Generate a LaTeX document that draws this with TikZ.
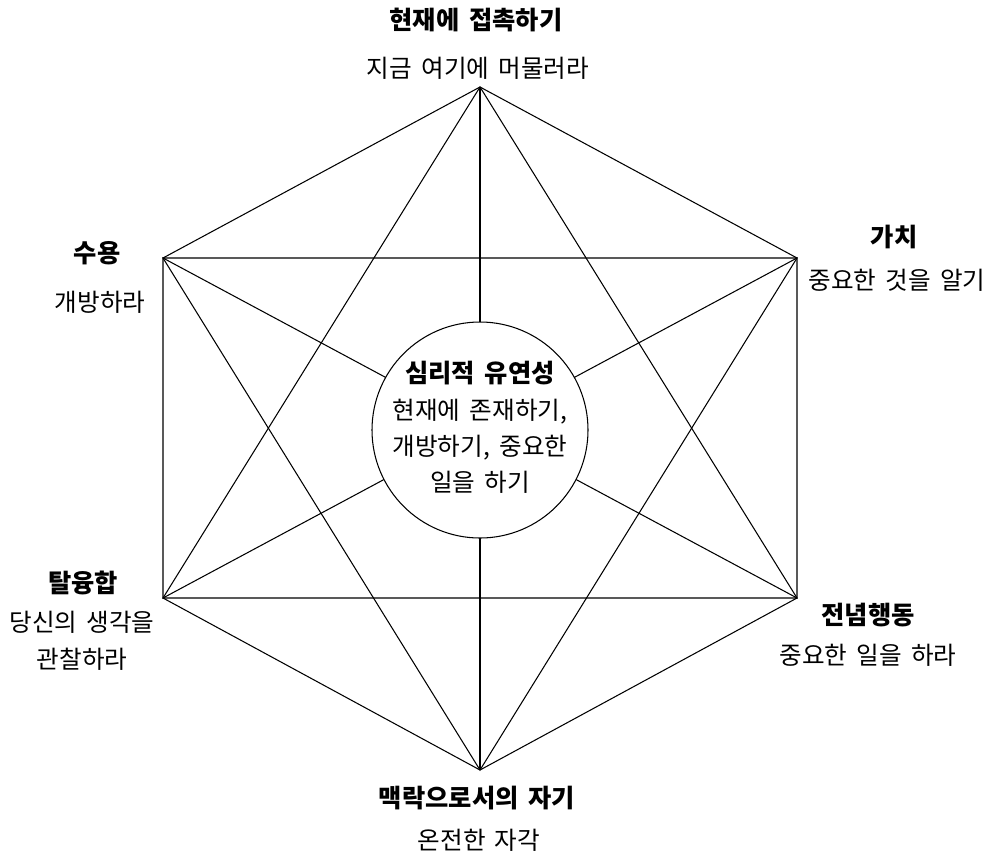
\documentclass[tikz,border=0pt]{standalone}
\usepackage{fontspec}
\setmainfont[WordSpace=1.7]{Noto Sans CJK KR}
\usetikzlibrary{positioning}

\begin{document}
\begin{tikzpicture}[
    x=0.02cm, y=-0.02cm,
    edge/.style={line width=0.6pt, draw=black},
    title/.style={font=\fontsize{14.4}{17}\selectfont\bfseries, inner sep=0pt},
    sub/.style={font=\fontsize{14}{17}\selectfont, inner sep=0pt, align=center},
    hub/.style={circle, draw=black, line width=0.6pt, fill=white, minimum size=216*0.02cm, inner sep=0pt}
  ]
    \useasboundingbox (0,0) rectangle (993,859);
    % corners of the hexagon
    \coordinate (present) at (480,87);
    \coordinate (accept) at (163,258);
    \coordinate (values) at (797,258);
    \coordinate (defuse) at (163,598);
    \coordinate (commit) at (797,598);
    \coordinate (self) at (480,770);
    % hexagon
    \draw[edge] (present) -- (values) -- (commit) -- (self) -- (defuse) -- (accept) -- cycle;
    % triangles
    \draw[edge] (present) -- (commit) -- (defuse) -- cycle;
    \draw[edge] (self) -- (accept) -- (values) -- cycle;
    % long diagonals
    \draw[edge] (present) -- (self);
    \draw[edge] (accept) -- (commit);
    \draw[edge] (values) -- (defuse);
    % centre
    \node[hub] (flex) at (480,430) {};
    \node[title] (flexT) at (480,373) {심리적 유연성};
    \node[sub] (flexS) at (480,446) {현재에 존재하기,\\[3.5pt]개방하기, 중요한\\[3.5pt]일을 하기};
    % labels
    \node[title] (presentT) at (476,20) {현재에 접촉하기};
    \node[sub] (presentS) at (478,68) {지금 여기에 머물러라};
    \node[title] (acceptT) at (97,253) {수용};
    \node[sub] (acceptS) at (100,302) {개방하라};
    \node[title] (valuesT) at (894,237) {가치};
    \node[sub] (valuesS) at (897,280) {중요한 것을 알기};
    \node[title] (defuseT) at (83,583) {탈융합};
    \node[sub] (defuseS) at (82,641) {당신의 생각을\\[4pt]관찰하라};
    \node[title] (commitT) at (868,615) {전념행동};
    \node[sub] (commitS) at (868,655) {중요한 일을 하라};
    \node[title] (selfT) at (477,798) {맥락으로서의 자기};
    \node[sub] (selfS) at (479,840) {온전한 자각};
\end{tikzpicture}
\end{document}
